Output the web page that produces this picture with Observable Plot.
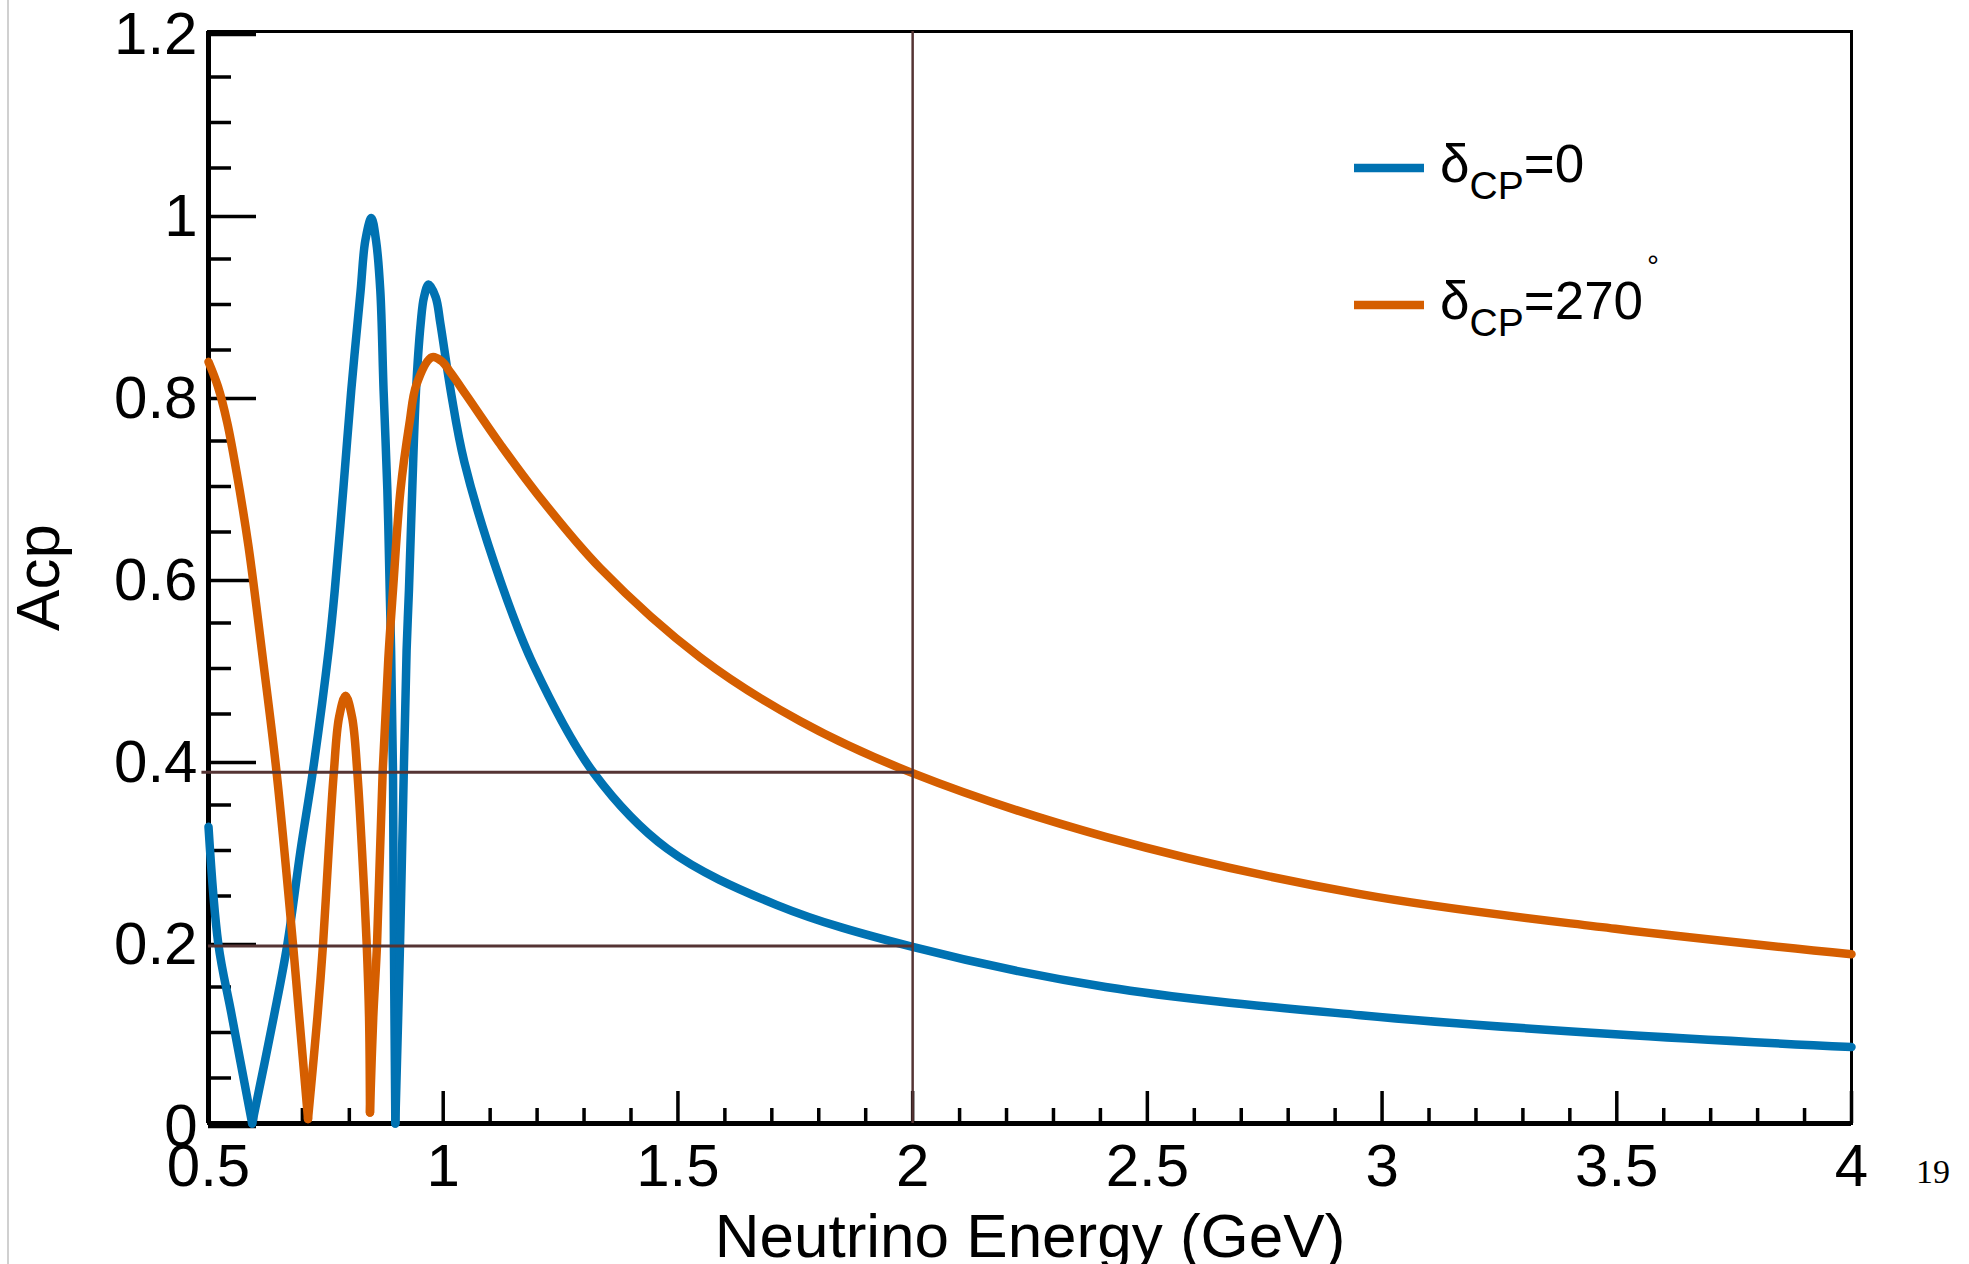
<!DOCTYPE html>
<html>
<head>
<meta charset="utf-8">
<script src="https://cdn.jsdelivr.net/npm/d3@7"></script>
<script src="https://cdn.jsdelivr.net/npm/@observablehq/plot@0.6"></script>
<style>
  html, body { margin: 0; padding: 0; background: #fff; }
  #wrap { position: relative; width: 1969px; height: 1264px; overflow: hidden; }
</style>
</head>
<body>
<div id="wrap"></div>
<script>
// ---------- data ----------
const xTitle = "Neutrino Energy (GeV)";
const yTitle = "Acp";
const xDomain = [0.5, 4];
const yDomain = [0, 1.2];
const xMajor = [0.5, 1, 1.5, 2, 2.5, 3, 3.5, 4];
const xMajorLabels = ["0.5", "1", "1.5", "2", "2.5", "3", "3.5", "4"];
const xMinor = [0.6, 0.7, 0.8, 0.9, 1.1, 1.2, 1.3, 1.4, 1.6, 1.7, 1.8, 1.9, 2.1, 2.2, 2.3, 2.4,
                2.6, 2.7, 2.8, 2.9, 3.1, 3.2, 3.3, 3.4, 3.6, 3.7, 3.8, 3.9];
const yMajor = [0, 0.2, 0.4, 0.6, 0.8, 1, 1.2];
const yMajorLabels = ["0", "0.2", "0.4", "0.6", "0.8", "1", "1.2"];
const yMinor = [0.05, 0.1, 0.15, 0.25, 0.3, 0.35, 0.45, 0.5, 0.55, 0.65, 0.7, 0.75,
                0.85, 0.9, 0.95, 1.05, 1.1, 1.15];

// delta_CP = 0 (blue)
const energyCP0 = [0.5, 0.521, 0.549, 0.593, 0.639, 0.668, 0.696, 0.722, 0.756, 0.769, 0.787, 0.804,
  0.824, 0.834, 0.847, 0.857, 0.866, 0.873, 0.881, 0.886, 0.889, 0.893, 0.895, 0.898,
  0.908, 0.916, 0.922, 0.927, 0.934, 0.942, 0.952, 0.959, 0.969, 0.984, 0.994, 1.016, 1.045,
  1.122, 1.193, 1.321, 1.477, 1.711, 2.0, 2.411, 2.954, 3.497, 4.0];
const acpCP0 = [0.326, 0.197, 0.120, 0.0, 0.117, 0.197, 0.300, 0.386, 0.520, 0.586, 0.696, 0.805,
  0.915, 0.970, 0.995, 0.970, 0.915, 0.805, 0.696, 0.586, 0.520, 0.386, 0.197, 0.0,
  0.197, 0.386, 0.520, 0.586, 0.696, 0.805, 0.879, 0.908, 0.922, 0.908, 0.879, 0.805, 0.727,
  0.596, 0.503, 0.385, 0.302, 0.240, 0.194, 0.150, 0.119, 0.098, 0.084];

// delta_CP = 270 deg (orange)
const energyCP270 = [0.5, 0.520, 0.540, 0.560, 0.585, 0.616, 0.645, 0.680, 0.692, 0.712,
  0.732, 0.744, 0.756, 0.767, 0.778, 0.792, 0.806, 0.817, 0.827, 0.837, 0.842, 0.844,
  0.851, 0.859, 0.871, 0.883, 0.893, 0.909, 0.928, 0.943, 0.976, 0.996, 1.016, 1.051,
  1.122, 1.200, 1.335, 1.548, 1.761, 2.0, 2.411, 2.954, 3.497, 4.0];
const acpCP270 = [0.837, 0.810, 0.770, 0.715, 0.635, 0.510, 0.386, 0.197, 0.125, 0.005,
  0.117, 0.197, 0.300, 0.386, 0.446, 0.470, 0.446, 0.386, 0.300, 0.197, 0.117, 0.012,
  0.117, 0.197, 0.386, 0.510, 0.586, 0.696, 0.769, 0.812, 0.842, 0.838, 0.825, 0.799,
  0.746, 0.692, 0.610, 0.512, 0.442, 0.385, 0.315, 0.252, 0.214, 0.186];

const refX = 2;
const refLevels = [0.386, 0.195];
const refStarts = [0.486, 0.5];

const seriesNames = ["0", "270"];
const seriesColors = ["#0072B2", "#D55E00"];
const seriesDegree = [false, true];

// ---------- build segmented line tables (break at the V-shaped minima) ----------
function segments(es, as) {
  const out = [];
  let seg = 0;
  for (let i = 0; i < es.length; i++) {
    out.push({e: es[i], a: as[i], seg});
    const isMin = i > 0 && i < es.length - 1 && as[i] < as[i - 1] && as[i] < as[i + 1];
    if (isMin) { seg++; out.push({e: es[i], a: as[i], seg}); }
  }
  return out;
}
const dataCP0 = segments(energyCP0, acpCP0);
const dataCP270 = segments(energyCP270, acpCP270);

const FONT = "'Liberation Sans', Arial, Helvetica, sans-serif";
const REF = "#553434";

const chart = Plot.plot({
  width: 1969,
  height: 1264,
  marginLeft: 208,
  marginRight: 118,
  marginTop: 31,
  marginBottom: 141,
  x: {domain: xDomain, label: null},
  y: {domain: yDomain, label: null},
  style: {fontFamily: FONT, fontSize: "60px", color: "black", background: "white", overflow: "visible"},
  marks: [
    Plot.axisX(xMinor, {tickSize: -15, strokeWidth: 3.5, tickFormat: () => "", label: null}),
    Plot.axisX(xMajor, {tickSize: -32, tickPadding: 52, strokeWidth: 3.5, fontSize: 60, label: null,
      tickFormat: (d) => xMajorLabels[xMajor.indexOf(d)]}),
    Plot.axisY(yMinor, {tickSize: -23, strokeWidth: 3.5, tickFormat: () => "", label: null}),
    Plot.axisY(yMajor, {tickSize: -48, tickPadding: 59, strokeWidth: 3.5, fontSize: 60, dy: 3, label: null,
      tickFormat: (d) => yMajorLabels[yMajor.indexOf(d)]}),
    Plot.frame({stroke: "black", strokeWidth: 3}),
    Plot.ruleX([xDomain[0]], {stroke: "black", strokeWidth: 5}),
    Plot.ruleY([yDomain[0]], {stroke: "black", strokeWidth: 5}),
    Plot.line(dataCP0, {x: "e", y: "a", z: "seg", stroke: seriesColors[0], strokeWidth: 8.5, curve: "catmull-rom"}),
    Plot.line(dataCP270, {x: "e", y: "a", z: "seg", stroke: seriesColors[1], strokeWidth: 8.5, curve: "catmull-rom"}),
    Plot.ruleY(refLevels, {y: (d) => d, x1: (d, i) => refStarts[i], x2: refX, stroke: REF, strokeWidth: 3}),
    Plot.ruleX([refX], {stroke: REF, strokeWidth: 2.5}),
    Plot.text([xTitle], {text: (d) => d, frameAnchor: "bottom", dy: 133, lineAnchor: "bottom", fontSize: 62, fill: "black"}),
    Plot.text([yTitle], {text: (d) => d, frameAnchor: "left", dx: -150, rotate: -90, lineAnchor: "bottom", textAnchor: "middle", fontSize: 62, fill: "black"})
  ]
});

document.getElementById("wrap").appendChild(chart);

// ---------- legend, page edge and page number ----------
const svg = d3.select(chart);
svg.append("line").attr("x1", 8).attr("x2", 8).attr("y1", 0).attr("y2", 1264)
  .attr("stroke", "#d0d0d0").attr("stroke-width", 2);

const leg = svg.append("g").attr("font-family", FONT).attr("fill", "black").attr("text-anchor", "start");
seriesNames.forEach((name, i) => {
  const y = 168 + i * 137;
  leg.append("line").attr("x1", 1354).attr("x2", 1424).attr("y1", y).attr("y2", y)
    .attr("stroke", seriesColors[i]).attr("stroke-width", 8.5);
  const t = leg.append("text").attr("x", 1440).attr("y", y + 14).attr("font-size", 53).attr("text-anchor", "start");
  t.append("tspan").text("δ");
  t.append("tspan").attr("font-size", 39).attr("dy", 17).text("CP");
  t.append("tspan").attr("dy", -17).text("=" + name);
  if (seriesDegree[i]) t.append("tspan").attr("font-size", 30).attr("dx", 4).attr("dy", -43).text("°");
});

svg.append("text").attr("x", 1916).attr("y", 1183).attr("text-anchor", "start")
  .attr("font-family", "'Liberation Serif', 'Times New Roman', serif").attr("font-size", 34)
  .attr("fill", "black").text("19");
</script>
</body>
</html>
